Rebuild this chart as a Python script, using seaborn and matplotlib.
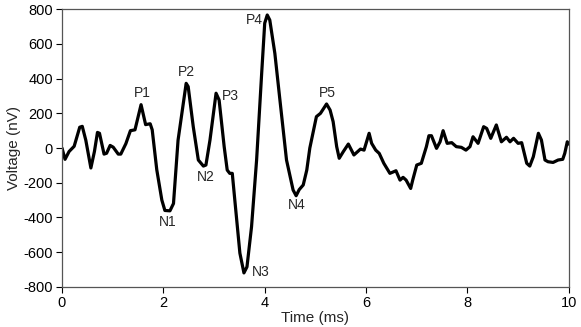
import numpy as np
import pandas as pd
import matplotlib
matplotlib.use("Agg")
import matplotlib.pyplot as plt
import seaborn as sns

# waveform (time in ms, voltage in nV)
time_ms = [0.00, 0.06, 0.14, 0.24, 0.35, 0.40, 0.47, 0.57, 0.64, 0.70, 0.74, 0.83, 0.88, 0.95, 1.01,
           1.11, 1.16, 1.26, 1.35, 1.44, 1.56, 1.65, 1.74, 1.78, 1.87, 1.97, 2.03, 2.13, 2.20, 2.29,
           2.45, 2.49, 2.59, 2.69, 2.79, 2.84, 2.92, 3.04, 3.10, 3.20, 3.26, 3.31, 3.36, 3.41, 3.51,
           3.59, 3.65, 3.74, 3.84, 3.94, 4.00, 4.05, 4.10, 4.20, 4.30, 4.43, 4.56, 4.62, 4.68, 4.76,
           4.83, 4.89, 5.02, 5.10, 5.22, 5.29, 5.35, 5.42, 5.47, 5.55, 5.65, 5.76, 5.89, 5.96, 6.06,
           6.11, 6.19, 6.26, 6.35, 6.47, 6.59, 6.67, 6.73, 6.79, 6.88, 6.92, 7.00, 7.09, 7.19, 7.24,
           7.29, 7.39, 7.46, 7.52, 7.60, 7.69, 7.78, 7.88, 7.97, 8.05, 8.11, 8.21, 8.32, 8.38, 8.46,
           8.57, 8.67, 8.77, 8.84, 8.91, 9.00, 9.07, 9.17, 9.23, 9.30, 9.40, 9.46, 9.53, 9.59, 9.69,
           9.79, 9.88, 9.92, 9.97, 10.00]
voltage_nv = [0, -65, -20, 10, 120, 125, 45, -115, -20, 90, 85, -35, -30, 15, 5,
              -35, -35, 25, 100, 105, 250, 135, 140, 105, -125, -300, -360, -362, -320, 45,
              373, 354, 123, -69, -104, -98, 46, 316, 277, 8, -127, -146, -146, -300, -606,
              -720, -685, -454, -69, 431, 720, 767, 738, 546, 277, -69, -242, -275, -240, -213,
              -127, 0, 181, 200, 254, 219, 152, 8, -59, -21, 23, -40, -6, -12, 85,
              27, -12, -31, -88, -146, -131, -185, -169, -185, -233, -185, -98, -88, 8, 71,
              71, -2, 36, 100, 27, 31, 8, 4, -12, 8, 65, 27, 123, 113, 56,
              133, 36, 62, 36, 56, 27, 31, -88, -104, -50, 85, 46, -69, -79, -83,
              -69, -65, -31, 36, 23]

# component labels and where their text sits
peak_names = ["P1", "P2", "P3", "P4", "P5", "N1", "N2", "N3", "N4"]
peak_t = [1.58, 2.45, 3.33, 3.79, 5.23, 2.09, 2.84, 3.92, 4.64]
peak_v = [317, 440, 300, 740, 317, -427, -167, -715, -329]

df = pd.DataFrame({"Time (ms)": time_ms, "Voltage (nV)": voltage_nv})

sns.set_style("white")
plt.rcParams["font.family"] = ["Liberation Sans", "DejaVu Sans"]
plt.rcParams["axes.unicode_minus"] = False

fig = plt.figure(figsize=(5.81, 3.27), dpi=100)
ax = fig.add_axes([0.1067, 0.123, 0.979 - 0.1067, 0.9716 - 0.123])

sns.lineplot(data=df, x="Time (ms)", y="Voltage (nV)", ax=ax, color="black", linewidth=2.3)

for name, t, v in zip(peak_names, peak_t, peak_v):
    ax.text(t, v, name, fontsize=10, ha="center", va="center")

ax.set_xlim(0, 10)
ax.set_ylim(-800, 800)
ax.set_xticks(np.arange(0, 11, 2))
ax.set_yticks(np.arange(-800, 801, 200))
ax.set_xlabel("Time (ms)", fontsize=11, labelpad=1)
ax.set_ylabel("Voltage (nV)", fontsize=11, labelpad=2)
ax.tick_params(axis="both", labelsize=10.5, length=4, width=0.8, direction="out",
               bottom=True, left=True, pad=2.5, colors="black")
for spine in ax.spines.values():
    spine.set_color("#555555")
    spine.set_linewidth(0.9)

fig.savefig("out.png", dpi=100)
